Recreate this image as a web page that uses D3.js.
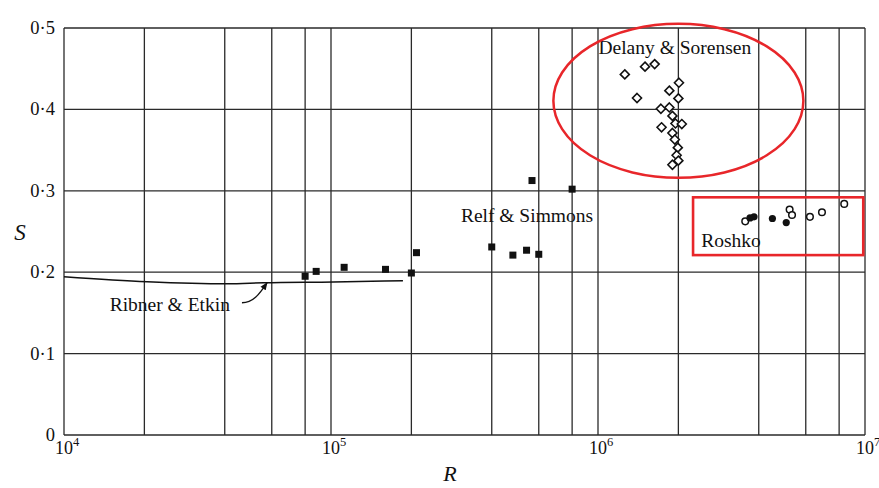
<!DOCTYPE html>
<html>
<head>
<meta charset="utf-8">
<script src="https://cdn.jsdelivr.net/npm/d3@7"></script>
<style>
  body { margin: 0; background: #fff; }
  svg text { font-family: "Liberation Serif", "DejaVu Serif", serif; fill: #111; }
  .grid line { stroke: #2a2a2a; stroke-width: 1.3; }
</style>
</head>
<body>
<div class="chart"></div>
<script>
// ---- data ----
const relfSimmons = [
  [8.0e4, 0.195], [8.8e4, 0.201], [1.12e5, 0.206], [1.6e5, 0.2035], [2.0e5, 0.199],
  [2.09e5, 0.224], [4.0e5, 0.231], [4.8e5, 0.221], [5.4e5, 0.227], [6.0e5, 0.222],
  [5.66e5, 0.3126], [8.0e5, 0.302]
];
const delanySorensen = [
  [1.26e6, 0.443], [1.50e6, 0.4525], [1.63e6, 0.4557], [2.01e6, 0.4328], [1.85e6, 0.423],
  [1.40e6, 0.414], [2.0e6, 0.4135], [1.72e6, 0.4008], [1.85e6, 0.4024], [1.90e6, 0.392],
  [1.95e6, 0.3827], [2.06e6, 0.382], [1.73e6, 0.378], [1.90e6, 0.371], [1.94e6, 0.363],
  [1.99e6, 0.353], [1.97e6, 0.3437], [2.0e6, 0.337], [1.90e6, 0.332]
];
const roshkoOpen = [
  [3.56e6, 0.2625], [5.22e6, 0.277], [5.33e6, 0.2703], [6.22e6, 0.268], [6.90e6, 0.2736], [8.36e6, 0.2839]
];
const roshkoFilled = [
  [3.71e6, 0.2667], [3.84e6, 0.268], [4.5e6, 0.266], [5.07e6, 0.261]
];
const ribnerEtkin = [
  [1e4, 0.1944], [2.05e4, 0.1883], [4.1e4, 0.1858], [5.6e4, 0.187], [1.02e5, 0.188], [1.86e5, 0.1895]
];
// leader from the label to the curve: tail, two controls, head
const ribnerLeader = [[4.64e4, 0.1625], [5.1e4, 0.1625], [5.37e4, 0.1723], [5.76e4, 0.187]];
const yTicks = [0, 0.1, 0.2, 0.3, 0.4, 0.5];
const yTickLabels = ['0', '0·1', '0·2', '0·3', '0·4', '0·5'];
const xDecades = [1e4, 1e5, 1e6, 1e7];
const xMinor = [2, 4, 6, 8];

// ---- layout ----
const outerW = 879, outerH = 488;
const margin = {left: 64, right: 14, top: 28, bottom: 53};
const w = outerW - margin.left - margin.right,
  h = outerH - margin.top - margin.bottom;

const x = d3.scaleLog().domain([1e4, 1e7]).range([0, w]);
const y = d3.scaleLinear().domain([0, 0.5]).range([h, 0]);

const svg = d3.select('.chart').append('svg')
  .attr('width', outerW)
  .attr('height', outerH);

const g = svg.append('g')
  .attr('transform', `translate(${margin.left}, ${margin.top})`);

// grid
const gridX = [];
xDecades.forEach(d => {
  gridX.push(d);
  if (d < 1e7) xMinor.forEach(m => gridX.push(d * m));
});

const grid = g.append('g').attr('class', 'grid');
grid.selectAll('.vx')
  .data(gridX)
  .enter().append('line')
  .attr('x1', d => x(d)).attr('x2', d => x(d))
  .attr('y1', 0).attr('y2', h);
grid.selectAll('.hy')
  .data(yTicks)
  .enter().append('line')
  .attr('x1', 0).attr('x2', w)
  .attr('y1', d => y(d)).attr('y2', d => y(d));

// y tick labels
g.selectAll('.ylab')
  .data(yTicks)
  .enter().append('text')
  .attr('x', -9)
  .attr('y', d => y(d) + 6)
  .attr('text-anchor', 'end')
  .style('font-size', '18.5px')
  .text((d, i) => yTickLabels[i]);

// x tick labels
const xl = g.selectAll('.xlab')
  .data(xDecades)
  .enter().append('text')
  .attr('x', d => x(d) - 9)
  .attr('y', h + 19)
  .attr('text-anchor', 'start')
  .style('font-size', '18px');
xl.append('tspan').text('10');
xl.append('tspan')
  .attr('dy', -8)
  .style('font-size', '12.5px')
  .text(d => Math.round(Math.log10(d)));

// axis titles
g.append('text')
  .attr('x', x(2.79e5))
  .attr('y', h + 46)
  .attr('text-anchor', 'middle')
  .style('font-size', '22px')
  .style('font-style', 'italic')
  .text('R');
g.append('text')
  .attr('x', -44)
  .attr('y', y(0.249) + 8)
  .attr('text-anchor', 'middle')
  .style('font-size', '23px')
  .style('font-style', 'italic')
  .text('S');

// Ribner & Etkin curve
const line = d3.line()
  .x(d => x(d[0]))
  .y(d => y(d[1]))
  .curve(d3.curveMonotoneX);
g.append('path')
  .datum(ribnerEtkin)
  .attr('d', line)
  .attr('fill', 'none')
  .attr('stroke', '#111')
  .attr('stroke-width', 1.5);

// leader arrow
svg.append('defs').append('marker')
  .attr('id', 'arr')
  .attr('viewBox', '0 0 10 10')
  .attr('refX', 9).attr('refY', 5)
  .attr('markerWidth', 6).attr('markerHeight', 6)
  .attr('orient', 'auto')
  .append('path')
  .attr('d', 'M0,1L10,5L0,9Z')
  .attr('fill', '#111');

const lp = ribnerLeader.map(d => [x(d[0]), y(d[1])]);
g.append('path')
  .attr('d', `M${lp[0]}C${lp[1]} ${lp[2]} ${lp[3]}`)
  .attr('fill', 'none')
  .attr('stroke', '#111')
  .attr('stroke-width', 1.3)
  .attr('marker-end', 'url(#arr)');

// Relf & Simmons (filled squares)
const sq = 7;
g.selectAll('.rs')
  .data(relfSimmons)
  .enter().append('rect')
  .attr('x', d => x(d[0]) - sq / 2)
  .attr('y', d => y(d[1]) - sq / 2)
  .attr('width', sq).attr('height', sq)
  .attr('fill', '#111');

// Delany & Sorensen (open diamonds)
g.selectAll('.ds')
  .data(delanySorensen)
  .enter().append('path')
  .attr('transform', d => `translate(${x(d[0])}, ${y(d[1])})`)
  .attr('d', 'M0,-4.5L4.5,0L0,4.5L-4.5,0Z')
  .attr('fill', '#fff')
  .attr('stroke', '#111')
  .attr('stroke-width', 1.6);

// Roshko
g.selectAll('.ro')
  .data(roshkoOpen)
  .enter().append('circle')
  .attr('cx', d => x(d[0])).attr('cy', d => y(d[1]))
  .attr('r', 3.3)
  .attr('fill', '#fff')
  .attr('stroke', '#111')
  .attr('stroke-width', 1.5);
g.selectAll('.rf')
  .data(roshkoFilled)
  .enter().append('circle')
  .attr('cx', d => x(d[0])).attr('cy', d => y(d[1]))
  .attr('r', 3.6)
  .attr('fill', '#111');

// labels
const labels = [
  {t: 'Delany & Sorensen', r: 1.94e6, s: 0.468},
  {t: 'Relf & Simmons', r: 5.42e5, s: 0.262},
  {t: 'Roshko', r: 3.15e6, s: 0.231},
  {t: 'Ribner & Etkin', r: 2.49e4, s: 0.152}
];
g.selectAll('.lab')
  .data(labels)
  .enter().append('text')
  .attr('x', d => x(d.r))
  .attr('y', d => y(d.s))
  .attr('text-anchor', 'middle')
  .style('font-size', '19.5px')
  .text(d => d.t);

// red highlights
g.append('ellipse')
  .attr('cx', x(2.0e6)).attr('cy', y(0.4105))
  .attr('rx', 125).attr('ry', 77)
  .attr('fill', 'none')
  .attr('stroke', '#e8262a')
  .attr('stroke-width', 2.5);
g.append('rect')
  .attr('x', x(2.27e6)).attr('y', y(0.292))
  .attr('width', x(9.85e6) - x(2.27e6))
  .attr('height', y(0.221) - y(0.292))
  .attr('fill', 'none')
  .attr('stroke', '#e8262a')
  .attr('stroke-width', 2.6);
</script>
</body>
</html>
